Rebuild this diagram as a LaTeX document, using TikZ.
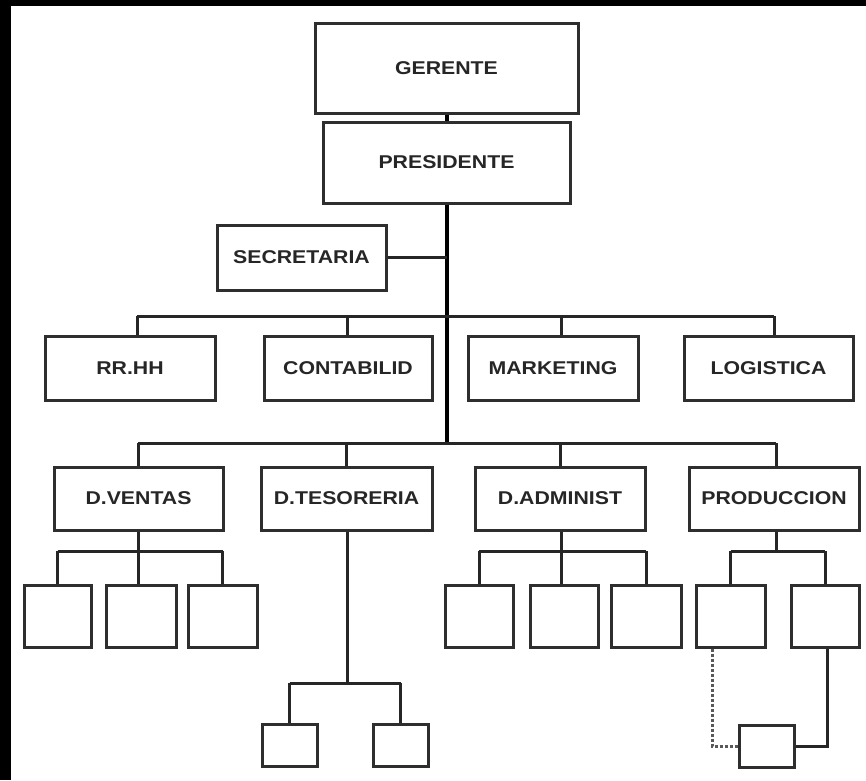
\documentclass[tikz,border=0pt]{standalone}
\usepackage{fontspec}
\newfontfamily\lbl[FakeStretch=1.15]{Liberation Sans}
\begin{document}
\begin{tikzpicture}[x=1pt,y=-1pt,
  box/.style={draw=black!82,line width=3pt,fill=white,inner sep=0pt,
    font=\lbl\bfseries\fontsize{18.5}{20}\selectfont,text=black!85},
  link/.style={draw=black!85,line width=3pt},
  trunk/.style={draw=black,line width=3.8pt},
  dlink/.style={draw=black!65,line width=3pt,dash pattern=on 3pt off 2pt}]
\useasboundingbox (0,0) rectangle (866,780);
\fill[white] (0,0) rectangle (866,780);
\fill[black] (0,0) rectangle (11,780);
\fill[black] (0,0) rectangle (866,6);

% top
\node[box,minimum width=263,minimum height=90] (ger) at (446.5,68) {GERENTE};
\node[box,minimum width=247,minimum height=81] (pre) at (446.5,162.5) {PRESIDENTE};
\node[box,minimum width=169,minimum height=65] (sec) at (301.5,257.5) {SECRETARIA};

% row 2
\node[box,minimum width=170,minimum height=64] (rrhh) at (130,368) {RR.HH};
\node[box,minimum width=168,minimum height=64] (cont) at (348,368) {CONTABILID};
\node[box,minimum width=170,minimum height=64] (mark) at (553,368) {MARKETING};
\node[box,minimum width=169,minimum height=64] (logi) at (768.5,368) {LOGISTICA};

% row 3
\node[box,minimum width=169,minimum height=63] (dven) at (138.5,498.5) {D.VENTAS};
\node[box,minimum width=171,minimum height=63] (dtes) at (346.5,498.5) {D.TESORERIA};
\node[box,minimum width=170,minimum height=63] (dadm) at (560,498.5) {D.ADMINIST};
\node[box,minimum width=170,minimum height=63] (prod) at (774,498.5) {PRODUCCION};

% row 4
\node[box,minimum width=67,minimum height=62] (v1) at (57.5,616) {};
\node[box,minimum width=70,minimum height=62] (v2) at (141,616) {};
\node[box,minimum width=69,minimum height=62] (v3) at (222.5,616) {};
\node[box,minimum width=68,minimum height=62] (a1) at (479,616) {};
\node[box,minimum width=68,minimum height=62] (a2) at (564,616) {};
\node[box,minimum width=70,minimum height=62] (a3) at (646,616) {};
\node[box,minimum width=69,minimum height=62] (p1) at (730.5,616) {};
\node[box,minimum width=68,minimum height=62] (p2) at (825,616) {};

% row 5
\node[box,minimum width=55,minimum height=42] (t1) at (289.5,745) {};
\node[box,minimum width=55,minimum height=42] (t2) at (400.5,745) {};
\node[box,minimum width=55,minimum height=42] (q) at (766.5,746) {};

% coordinates
\coordinate (busA) at (447,316);
\coordinate (busB) at (447,443);
\coordinate (bA1) at (137,316);
\coordinate (bA2) at (347,316);
\coordinate (bA3) at (561,316);
\coordinate (bA4) at (774,316);
\coordinate (bB1) at (138,443);
\coordinate (bB4) at (776,443);
\coordinate (vb) at (138,551);
\coordinate (ab) at (561,551);
\coordinate (pb) at (776,551);
\coordinate (tb) at (347,683);
\coordinate (qd) at (712,746);
\coordinate (qs) at (827,746);

% connectors
\draw[trunk] (ger.south -| busA) -- (pre.north -| busA);
\draw[trunk] (pre.south -| busA) -- (busB);
\draw[link] (sec.east) -- (sec.east -| busA);
\draw[link] (bA1) -- (bA4);
\draw[link] (bA1) -- (bA1 |- rrhh.north);
\draw[link] (bA2) -- (bA2 |- cont.north);
\draw[link] (bA3) -- (bA3 |- mark.north);
\draw[link] (bA4) -- (bA4 |- logi.north);
\draw[link] (bB1) -- (bB4);
\draw[link] (bB1) -- (dven.north -| bB1);
\draw[link] (busB -| dtes.north) -- (dtes.north);
\draw[link] (busB -| dadm.north) -- (dadm.north);
\draw[link] (bB4) -- (bB4 |- prod.north);
% ventas
\draw[link] (dven.south -| vb) -- (vb);
\draw[link] (v1.north |- vb) -- (v3.north |- vb);
\draw[link] (v1.north |- vb) -- (v1.north);
\draw[link] (vb) -- (vb |- v2.north);
\draw[link] (v3.north |- vb) -- (v3.north);
% administ
\draw[link] (dadm.south -| ab) -- (ab);
\draw[link] (a1.north |- ab) -- (a3.north |- ab);
\draw[link] (a1.north |- ab) -- (a1.north);
\draw[link] (ab) -- (ab |- a2.north);
\draw[link] (a3.north |- ab) -- (a3.north);
% produccion
\draw[link] (prod.south -| pb) -- (pb);
\draw[link] (p1.north |- pb) -- (p2.north |- pb);
\draw[link] (p1.north |- pb) -- (p1.north);
\draw[link] (p2.north |- pb) -- (p2.north);
% tesoreria
\draw[link] (dtes.south -| tb) -- (tb);
\draw[link] (t1.north |- tb) -- (t2.north |- tb);
\draw[link] (t1.north |- tb) -- (t1.north);
\draw[link] (t2.north |- tb) -- (t2.north);
% bottom box
\draw[dlink] (p1.south -| qd) -- (qd) -- (q.west);
\draw[link] (p2.south -| qs) -- (qs) -- (q.east);
\end{tikzpicture}
\end{document}
